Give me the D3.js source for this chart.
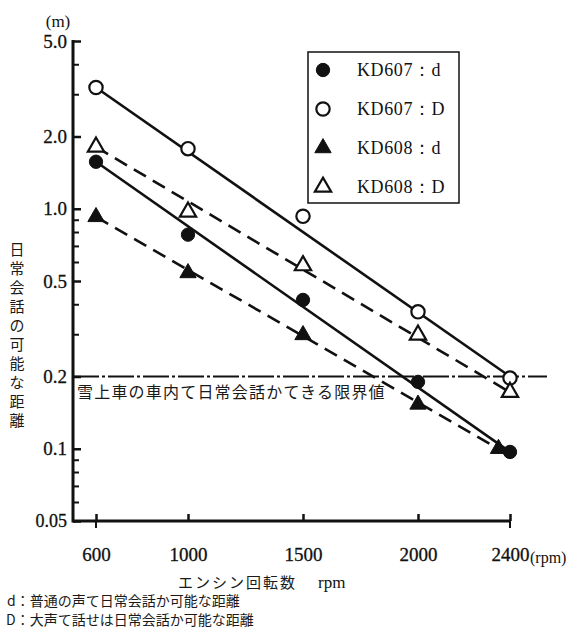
<!DOCTYPE html>
<html>
<head>
<meta charset="utf-8">
<script src="https://cdn.jsdelivr.net/npm/d3@7"></script>
<style>
  body { margin: 0; background: #fff; }
  .num { font-family: "Liberation Serif", "DejaVu Serif", serif; fill: #111; }
  .jp { font-family: "Noto Sans CJK JP", sans-serif; fill: #1a1a1a; }
</style>
</head>
<body>
<div id="chart"></div>
<script>
// engine rpm vs. distance at which daily conversation is possible (log scale)

const rpm = [600, 1000, 1500, 2000, 2400];
const rpm608d = [600, 1000, 1500, 2000, 2350];

const kd607_d = [1.57, 0.78, 0.417, 0.19, 0.097];
const kd607_D = [3.2, 1.78, 0.93, 0.372, 0.197];
const kd608_d = [0.925, 0.54, 0.298, 0.153, 0.1];
const kd608_D = [1.81, 0.97, 0.58, 0.298, 0.172];

// ends of the straight (fitted) lines
const fit607_d = [[600, 1.57], [2400, 0.097]];
const fit607_D = [[600, 3.2], [2400, 0.2]];
const fit608_d = [[600, 0.925], [2350, 0.1]];
const fit608_D = [[600, 1.81], [2400, 0.172]];

const limitValue = 0.2;

const yMajor = [5, 2, 1, 0.5, 0.2, 0.1, 0.05];
const yMajorLabels = ["5.0", "2.0", "1.0", "0.5", "0.2", "0.1", "0.05"];
const yMinor = [4, 3, 0.9, 0.8, 0.7, 0.6, 0.4, 0.3, 0.09, 0.08, 0.07, 0.06];
const xTicks = [600, 1000, 1500, 2000, 2400];

const legendLabels = ["KD607：d", "KD607：D", "KD608：d", "KD608：D"];

let width = 569,
    height = 630,
    margin = ({ top: 41, right: 59, bottom: 109, left: 73 });

const svg = d3.select("#chart")
    .append("svg")
    .attr("width", width)
    .attr("height", height);

let x = d3.scaleLinear()
    .domain([500, 2400])
    .range([margin.left, width - margin.right]);

let y = d3.scaleLog()
    .domain([0.05, 5])
    .range([height - margin.bottom, margin.top]);

const serif = '"Liberation Serif", "DejaVu Serif", serif';

// y axis, ticks pointing into the plot
const yAxis = svg.append("g")
    .attr("transform", `translate(${margin.left},0)`)
    .call(d3.axisLeft(y)
        .tickValues(yMajor)
        .tickSizeInner(-8)
        .tickSizeOuter(0)
        .tickPadding(6)
        .tickFormat((d, i) => yMajorLabels[i]))
    .attr("font-family", serif)
    .attr("font-size", 19);
yAxis.select(".domain").remove();
yAxis.selectAll(".tick line").attr("stroke", "#111").attr("stroke-width", 2.5);
yAxis.selectAll(".tick text")
    .attr("fill", "#111")
    .attr("stroke", "#111")
    .attr("stroke-width", 0.3);
yAxis.selectAll(".tick")
    .filter(d => d == 0.05)
    .select("text").attr("font-size", 18);

const yMinorAxis = svg.append("g")
    .attr("transform", `translate(${margin.left},0)`)
    .call(d3.axisLeft(y).tickValues(yMinor).tickSizeInner(-6).tickSizeOuter(0).tickFormat(""));
yMinorAxis.select(".domain").remove();
yMinorAxis.selectAll(".tick line").attr("stroke", "#111").attr("stroke-width", 2);

svg.append("line")
    .attr("x1", margin.left).attr("x2", margin.left)
    .attr("y1", y(5) - 1).attr("y2", y(0.05) + 1.5)
    .attr("stroke", "#111").attr("stroke-width", 3);

// x axis, ticks pointing up
const xAxis = svg.append("g")
    .attr("transform", `translate(0,${y(0.05)})`)
    .call(d3.axisBottom(x)
        .tickValues(xTicks)
        .tickSizeInner(-7)
        .tickSizeOuter(0)
        .tickPadding(27)
        .tickFormat(d3.format("d")))
    .attr("font-family", serif)
    .attr("font-size", 19);
xAxis.select(".domain").remove();
xAxis.selectAll(".tick line").attr("stroke", "#111").attr("stroke-width", 2.5);
xAxis.selectAll(".tick text")
    .attr("fill", "#111")
    .attr("stroke", "#111")
    .attr("stroke-width", 0.3);

svg.append("line")
    .attr("x1", margin.left).attr("x2", x(2400) + 1)
    .attr("y1", y(0.05)).attr("y2", y(0.05))
    .attr("stroke", "#111").attr("stroke-width", 3);

// end ticks cross the axis
svg.append("g")
    .selectAll("line")
    .data([600, 2400])
    .join("line")
    .attr("x1", d => x(d)).attr("x2", d => x(d))
    .attr("y1", y(0.05)).attr("y2", y(0.05) + 7)
    .attr("stroke", "#111").attr("stroke-width", 2);

svg.append("text")
    .attr("class", "num")
    .attr("x", x(2400) + 20)
    .attr("y", y(0.05) + 42)
    .style("font-size", "16px")
    .text("(rpm)");

svg.append("text")
    .attr("class", "num")
    .attr("x", 58)
    .attr("y", 27)
    .attr("text-anchor", "middle")
    .style("font-size", "17px")
    .text("(m)");

// limit line
svg.append("line")
    .attr("x1", margin.left).attr("x2", x(2400) + 37)
    .attr("y1", y(limitValue)).attr("y2", y(limitValue))
    .attr("stroke", "#111")
    .attr("stroke-width", 2)
    .attr("stroke-dasharray", "26,3,3,3");

svg.append("text")
    .attr("class", "jp")
    .attr("x", margin.left + 4)
    .attr("y", y(limitValue) + 21)
    .style("font-size", "16px")
    .style("letter-spacing", "1.2px")
    .text("雪上車の車内て日常会話かてきる限界値");

// fitted lines
const line = d3.line()
    .x(d => x(d[0]))
    .y(d => y(d[1]));

const fits = [
    { pts: fit607_d, dash: null },
    { pts: fit607_D, dash: null },
    { pts: fit608_d, dash: "14,8" },
    { pts: fit608_D, dash: "14,8" }
];

svg.append("g")
    .selectAll("path")
    .data(fits)
    .join("path")
    .attr("d", d => line(d.pts))
    .attr("fill", "none")
    .attr("stroke", "#111")
    .attr("stroke-width", 2.6)
    .attr("stroke-dasharray", d => d.dash);

// markers
const series = [
    { xs: rpm, ys: kd607_d, shape: "circle", filled: true },
    { xs: rpm, ys: kd607_D, shape: "circle", filled: false },
    { xs: rpm608d, ys: kd608_d, shape: "triangle", filled: true },
    { xs: rpm, ys: kd608_D, shape: "triangle", filled: false }
];

const markerPath = (shape) => shape == "circle"
    ? d3.symbol(d3.symbolCircle, 140)()
    : d3.symbol(d3.symbolTriangle, 115)();

function drawMarker(g, s) {
    g.append("path")
        .attr("d", markerPath(s.shape))
        .attr("fill", s.filled ? "#111" : "#fff")
        .attr("stroke", "#111")
        .attr("stroke-width", s.filled ? 1 : 2.2);
}

series.forEach(s => {
    s.ys.forEach((v, i) => {
        const g = svg.append("g")
            .attr("transform", `translate(${x(s.xs[i])},${y(v)})`);
        drawMarker(g, s);
    });
});

// legend
const legend = svg.append("g").attr("transform", "translate(308,52)");
legend.append("rect")
    .attr("width", 151).attr("height", 151)
    .attr("fill", "#fff")
    .attr("stroke", "#111").attr("stroke-width", 1.5);

series.forEach((s, i) => {
    const row = legend.append("g").attr("transform", `translate(15,${18 + i * 39})`);
    drawMarker(row.append("g"), s);
    row.append("text")
        .attr("class", "num")
        .attr("x", 34)
        .attr("y", 6)
        .style("font-size", "18px")
        .style("letter-spacing", "0.6px")
        .text(legendLabels[i]);
});

// axis titles
const yTitle = "日常会話の可能な距離".split("");
svg.append("g")
    .selectAll("text")
    .data(yTitle)
    .join("text")
    .attr("class", "jp")
    .attr("x", 17)
    .attr("y", (d, i) => 255 + i * 19)
    .attr("text-anchor", "middle")
    .style("font-size", "15px")
    .text(d => d);

svg.append("text")
    .attr("class", "jp")
    .attr("x", 178)
    .attr("y", 588)
    .style("font-size", "15px")
    .style("letter-spacing", "2px")
    .text("エンシン回転数");
svg.append("text")
    .attr("class", "num")
    .attr("x", 318)
    .attr("y", 588)
    .style("font-size", "17px")
    .text("rpm");

svg.append("text")
    .attr("class", "jp")
    .attr("x", 7)
    .attr("y", 606)
    .style("font-size", "14px")
    .text("d：普通の声て日常会話か可能な距離");
svg.append("text")
    .attr("class", "jp")
    .attr("x", 6)
    .attr("y", 625)
    .style("font-size", "14px")
    .text("D：大声て話せは日常会話か可能な距離");
</script>
</body>
</html>
